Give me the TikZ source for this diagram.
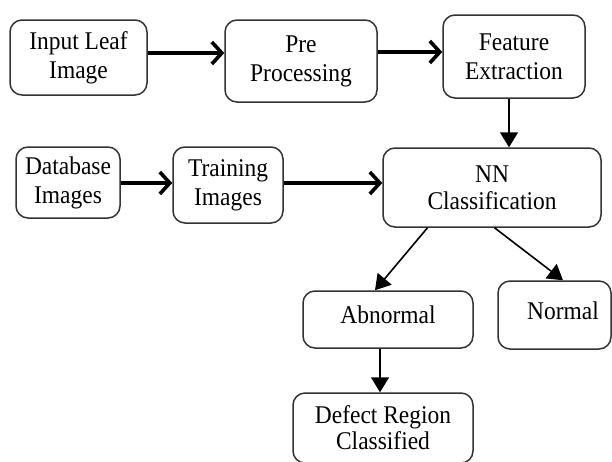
\documentclass[tikz,border=0pt]{standalone}
\usepackage{fontspec}
\setmainfont{Liberation Serif}[FakeStretch=0.92]
\usetikzlibrary{arrows.meta}
\begin{document}
\begin{tikzpicture}[x=1pt,y=-1pt,
  box/.style={draw=black!80, line width=1.5pt, rounded corners=12pt, fill=white, align=center, inner sep=0pt, font=\fontsize{25.5}{29}\selectfont},
  onebox/.style={draw=black!80, line width=1.5pt, rounded corners=12pt, fill=white, inner sep=0pt, font=\fontsize{25.5}{29}\selectfont},
  thk/.style={line width=3.2pt, -{Straight Barb[length=10pt,width=22pt,line width=3.6pt]}},
  thn/.style={line width=1.6pt, -{Triangle[length=15pt,width=18pt]}}]
\useasboundingbox (0,0) rectangle (612,461);
\begin{scope}
\clip (0,0) rectangle (612,461);
\node[box, minimum width=137pt, minimum height=75pt] (inp) at (78.5,57.5) {Input Leaf\\Image};
\node[box, minimum width=152pt, minimum height=82pt] (pre) at (301,61) {Pre\\Processing};
\node[box, minimum width=142pt, minimum height=83pt] (feat) at (514,56.5) {Feature\\Extraction};
\node[box, minimum width=104pt, minimum height=71pt] (db) at (68,182.5) {Database\\Images};
\node[box, minimum width=110pt, minimum height=76pt] (train) at (228,185) {Training\\Images};
\node[box, minimum width=218pt, minimum height=79pt, font=\fontsize{25.5}{27}\selectfont] (nn) at (492,187.5) {NN\\Classification};
\node[onebox, minimum width=170pt, minimum height=57pt] (abn) at (388,319.5) {\raisebox{4.5pt}[\height][\depth]{Abnormal}\hspace{22pt}};
\node[onebox, minimum width=113pt, minimum height=68pt] (norm) at (554.5,315) {\hspace{17pt}\raisebox{4pt}[\height][\depth]{Normal}};
\node[box, minimum width=180pt, minimum height=70pt, font=\fontsize{25.5}{26}\selectfont] (def) at (383,428) {Defect Region\\Classified};

\draw[thk] (inp.east |- 0,53) -- (pre.west |- 0,53);
\draw[thk] (pre.east |- 0,52) -- (feat.west |- 0,52);
\draw[thk] (db.east |- 0,183) -- (train.west |- 0,183);
\draw[thk] (train.east |- 0,183) -- (nn.west |- 0,183);
\draw[thn] ([xshift=-5pt]feat.south) -- ([xshift=-5pt]feat.south |- nn.north);
\draw[thn] ([xshift=-64.5pt]nn.south) -- ([xshift=-13pt]abn.north);
\draw[thn] ([xshift=2.5pt]nn.south) -- ([xshift=8.5pt]norm.north);
\draw[thn] ([xshift=-8pt]abn.south) -- ([xshift=-8pt]abn.south |- def.north);
\end{scope}
\end{tikzpicture}
\end{document}
